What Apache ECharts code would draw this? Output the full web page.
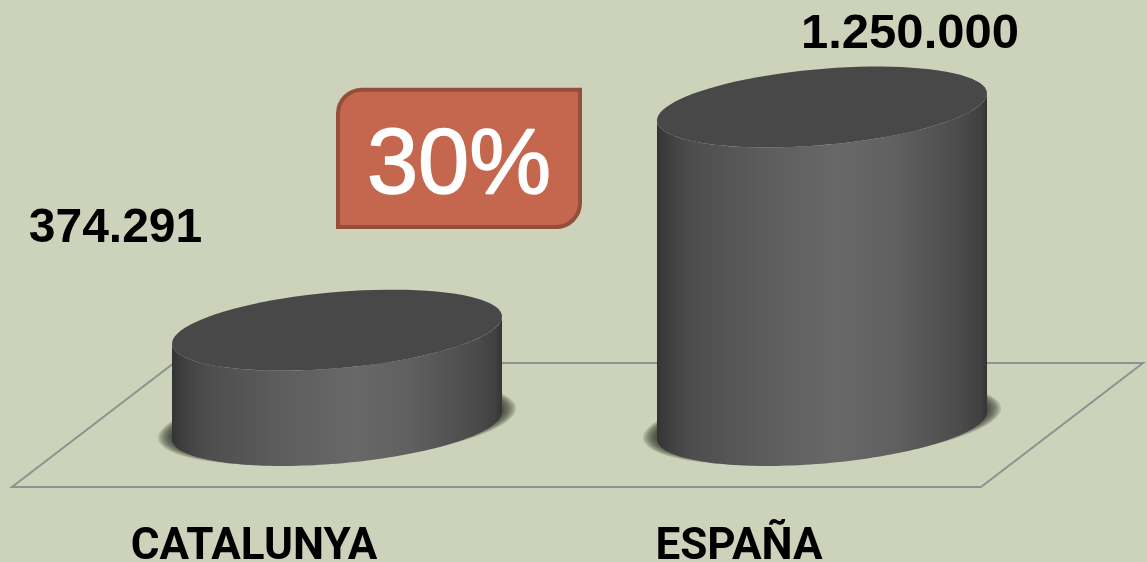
<!DOCTYPE html>
<html>
<head>
<meta charset="utf-8">
<script src="https://cdn.jsdelivr.net/npm/echarts@6/dist/echarts.min.js"></script>
<style>html,body{margin:0;padding:0;background:#cdd2ba}#c{width:1147px;height:562px}</style>
</head>
<body>
<div id="c"></div>
<script>
const categories = ['CATALUNYA', 'ESPAÑA'];
const values = [374291, 1250000];
const badgeText = '30%';

const A = 165.6, B = 38, TILT = -4.94 * Math.PI / 180;
const LABEL_SHIFT = [[-221.5, -101.6], [88, -72.5]];
const HALO_STEPS = 8;

function ellipsePts(cx, cy, a, b, from, to) {
  const pts = [], n = 90, c = Math.cos(TILT), s = Math.sin(TILT);
  for (let i = 0; i <= n; i++) {
    const t = from + (to - from) * i / n;
    pts.push([cx + a * Math.cos(t) * c - b * Math.sin(t) * s,
              cy + a * Math.cos(t) * s + b * Math.sin(t) * c]);
  }
  return pts;
}
function extremeAngle() { return Math.atan2(-B * Math.sin(TILT), A * Math.cos(TILT)); }

function renderCylinder(params, api) {
  const idx = api.value(0), v = api.value(1);
  const top = api.coord([idx, v]), base = api.coord([idx, 0]);
  const t0 = extremeAngle();
  const bottomArc = ellipsePts(base[0], base[1], A, B, t0, t0 + Math.PI);
  const topArc = ellipsePts(top[0], top[1], A, B, t0 + Math.PI, t0);
  const body = bottomArc.concat(topArc);
  const shift = LABEL_SHIFT[idx];
  const fmt = String(v).replace(/\B(?=(\d{3})+$)/g, '.');
  const halo = [];
  for (let k = 0; k < HALO_STEPS; k++) {
    halo.push({ type: 'polygon',
      shape: { points: ellipsePts(base[0], base[1] - 2.5, A + 14 - k * 2, B + 1.5 - k * 0.6, 0, Math.PI * 2) },
      style: { fill: 'rgba(38,40,28,0.17)' } });
  }
  return {
    type: 'group',
    children: halo.concat([
      { type: 'polygon', shape: { points: body },
        style: { fill: new echarts.graphic.LinearGradient(0, 0, 1, 0, [
          { offset: 0, color: '#343434' }, { offset: 0.03, color: '#3e3e3e' }, { offset: 0.1, color: '#4d4d4d' },
          { offset: 0.35, color: '#5e5e5e' }, { offset: 0.55, color: '#686868' },
          { offset: 0.72, color: '#606060' }, { offset: 0.92, color: '#4b4b4b' },
          { offset: 0.98, color: '#404040' }, { offset: 1, color: '#353535' }]) } },
      { type: 'polygon', shape: { points: ellipsePts(top[0], top[1], A, B, 0, Math.PI * 2) },
        style: { fill: '#484848' } },
      { type: 'text', x: top[0] + shift[0], y: top[1] + shift[1],
        style: { text: fmt, fill: '#000', align: 'center', verticalAlign: 'middle',
                 font: 'bold ' + (idx ? 49 : 48) + 'px "Liberation Sans"' } }
    ])
  };
}

const chart = echarts.init(document.getElementById('c'), null, { renderer: 'canvas' });
chart.setOption({
  animation: false,
  backgroundColor: '#cdd2ba',
  grid: { left: 94.5, right: 82.5, top: 107, bottom: 136.5, outerBoundsMode: 'none' },
  xAxis: {
    type: 'category', data: categories,
    axisLine: { show: false }, axisTick: { show: false },
    axisLabel: { interval: 0, margin: 100, padding: [0, 166, 0, 0], color: '#000',
      fontFamily: 'Roboto', fontWeight: 'bold', fontSize: 44 }
  },
  yAxis: { type: 'value', min: 0, max: 1250000, show: false, splitLine: { show: false } },
  graphic: [
    { type: 'polygon', z: 0, silent: true,
      shape: { points: [[12, 487], [981, 487], [1143, 363], [174, 363]] },
      style: { fill: 'transparent', stroke: '#8e9291', lineWidth: 2 } },
    { type: 'rect', z: 5, silent: true,
      shape: { x: 338, y: 89.7, width: 242, height: 137.3, r: [24, 0, 24, 0] },
      style: { fill: '#c5674f', stroke: '#944f3b', lineWidth: 4 } },
    { type: 'text', z: 6, silent: true, x: 459, y: 168,
      style: { text: badgeText, fill: '#fff', stroke: '#fff', lineWidth: 1.5, align: 'center', verticalAlign: 'middle',
               font: '92px "Liberation Sans"' } }
  ],
  series: [{
    type: 'custom', z: 2, clip: false,
    encode: { x: 0, y: 1 },
    data: values.map((v, i) => [i, v]),
    renderItem: renderCylinder
  }]
});
</script>
</body>
</html>
